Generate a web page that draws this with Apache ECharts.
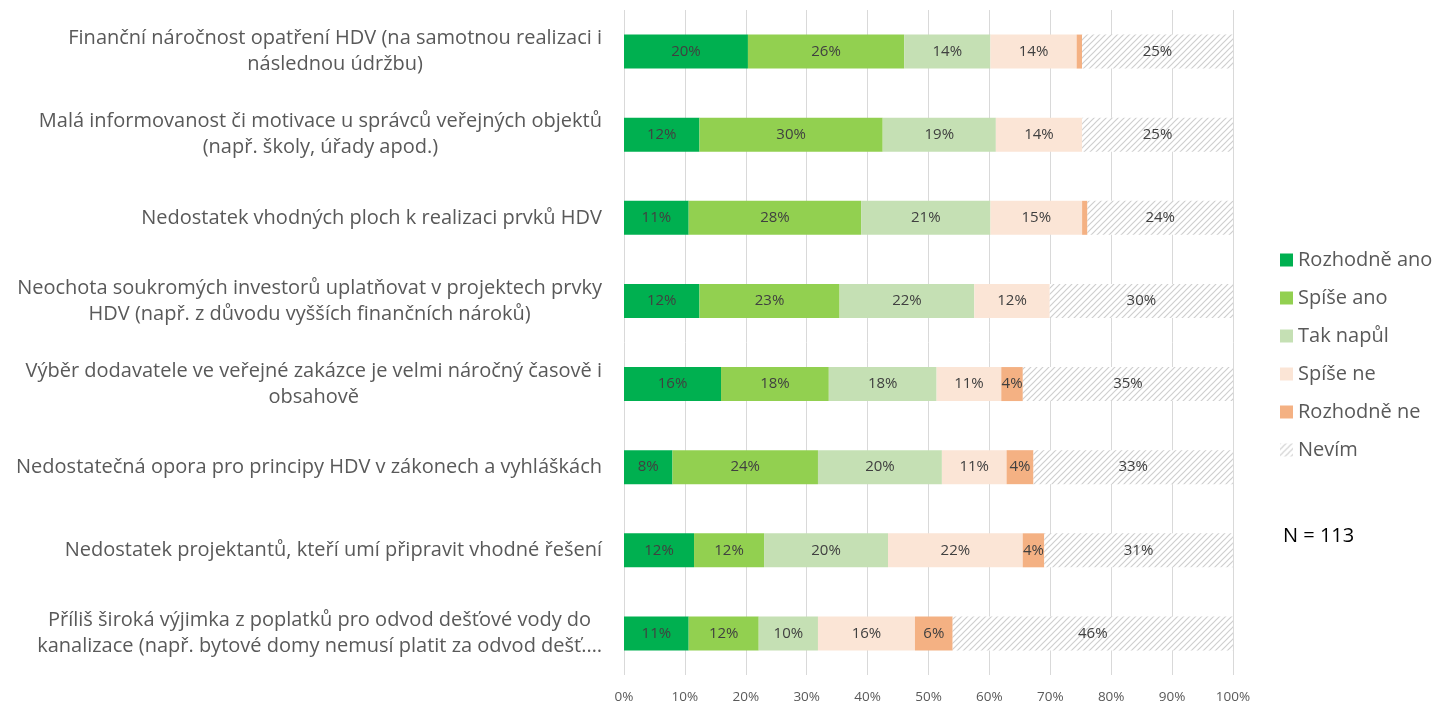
<!DOCTYPE html>
<html>
<head>
<meta charset="utf-8">
<script src="https://cdn.jsdelivr.net/npm/echarts@6/dist/echarts.min.js"></script>
<style>html,body{margin:0;padding:0;background:#fff}#c{width:1434px;height:704px}</style>
</head>
<body>
<div id="c"></div>
<script>
const categories = [
  "Finanční náročnost opatření HDV (na samotnou realizaci i\nnáslednou údržbu)",
  "Malá informovanost či motivace u správců veřejných objektů\n(např. školy, úřady apod.)",
  "Nedostatek vhodných ploch k realizaci prvků HDV",
  "Neochota soukromých investorů uplatňovat v projektech prvky\nHDV (např. z důvodu vyšších finančních nároků)",
  "Výběr dodavatele ve veřejné zakázce je velmi náročný časově i\nobsahově",
  "Nedostatečná opora pro principy HDV v zákonech a vyhláškách",
  "Nedostatek projektantů, kteří umí připravit vhodné řešení",
  "Příliš široká výjimka z poplatků pro odvod dešťové vody do\nkanalizace (např. bytové domy nemusí platit za odvod dešť.…"
];
const seriesNames = ["Rozhodně ano", "Spíše ano", "Tak napůl", "Spíše ne", "Rozhodně ne", "Nevím"];
const rozhodneAno = [20.35, 12.39, 10.62, 12.39, 15.93, 7.96, 11.50, 10.62];
const spiseAno    = [25.66, 30.09, 28.32, 23.01, 17.70, 23.89, 11.50, 11.50];
const takNapul    = [14.16, 18.58, 21.24, 22.12, 17.70, 20.35, 20.35, 9.73];
const spiseNe     = [14.16, 14.16, 15.04, 12.39, 10.62, 10.62, 22.12, 15.93];
const rozhodneNe  = [0.88, 0, 0.88, 0, 3.54, 4.42, 3.54, 6.19];
const nevim       = [24.78, 24.78, 23.89, 30.09, 34.51, 32.74, 30.97, 46.02];
const xTicks = [0, 10, 20, 30, 40, 50, 60, 70, 80, 90, 100];
const noteText = "N = 113";

const FONT = "'Open Sans', 'Liberation Sans', Arial, sans-serif";

// hatch pattern for "Nevím"
const pc = document.createElement('canvas');
pc.width = 6; pc.height = 6;
const g = pc.getContext('2d');
g.fillStyle = '#ffffff';
g.fillRect(0, 0, 6, 6);
g.strokeStyle = '#cfcfcf';
g.lineWidth = 1.2;
g.beginPath();
g.moveTo(-1, 7); g.lineTo(7, -1);
g.moveTo(-1, 1); g.lineTo(1, -1);
g.moveTo(5, 7); g.lineTo(7, 5);
g.stroke();

const colors = ['#00B050', '#92D050', '#C5E0B4', '#FBE5D6', '#F4B183', {image: pc, repeat: 'repeat'}];
const valuesList = [rozhodneAno, spiseAno, takNapul, spiseNe, rozhodneNe, nevim];

const chart = echarts.init(document.getElementById('c'), null, {renderer: 'canvas'});
chart.setOption({
  animation: false,
  backgroundColor: '#fff',
  grid: {left: 624, right: 201, top: 10, bottom: 28, containLabel: false},
  title: {
    text: noteText, left: 1278, top: 521,
    textStyle: {fontFamily: FONT, fontSize: 20, fontWeight: 'normal', color: '#000'}
  },
  legend: {
    orient: 'vertical', left: 1275, top: 242,
    itemWidth: 13, itemHeight: 13, itemGap: 12,
    icon: 'rect',
    data: seriesNames,
    textStyle: {fontFamily: FONT, fontSize: 20, color: '#595959', lineHeight: 26, padding: [0, 0, 0, 0]}
  },
  xAxis: {
    type: 'value', min: 0, max: 100, interval: 10,
    axisLine: {show: false}, axisTick: {show: false},
    splitLine: {show: true, lineStyle: {color: '#D9D9D9', width: 1}},
    axisLabel: {
      formatter: v => xTicks.includes(v) ? v + '%' : '',
      fontFamily: FONT, fontSize: 13.5, color: '#595959', margin: 15
    }
  },
  yAxis: {
    type: 'category', inverse: true, data: categories,
    axisLine: {show: false}, axisTick: {show: false},
    axisLabel: {
      margin: 22,
      fontFamily: FONT, fontSize: 20, color: '#595959', lineHeight: 26,
      formatter: v => v.split('\n').map(l => '{c|' + l + '}').join('\n'),
      rich: {c: {align: 'center', fontFamily: FONT, fontSize: 20, color: '#595959', lineHeight: 26}}
    }
  },
  series: seriesNames.map((name, i) => ({
    name: name,
    type: 'bar',
    stack: 'total',
    barWidth: 34,
    data: valuesList[i],
    itemStyle: {color: colors[i]},
    label: {
      show: true,
      position: 'inside',
      fontFamily: FONT, fontSize: 15, color: '#404040',
      formatter: p => p.value >= 2 ? Math.round(p.value) + '%' : ''
    }
  }))
});
</script>
</body>
</html>
